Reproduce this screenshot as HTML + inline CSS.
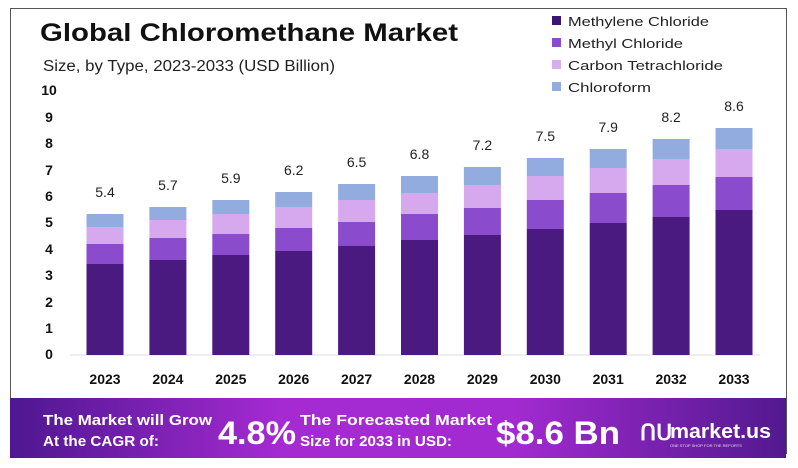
<!DOCTYPE html>
<html><head><meta charset="utf-8"><style>
html,body{margin:0;padding:0;background:#fff;}
svg{display:block;font-family:"Liberation Sans",sans-serif;}
</style></head><body>
<svg width="798" height="468" viewBox="0 0 798 468" xmlns="http://www.w3.org/2000/svg">
<defs>
<linearGradient id="bg" x1="0" x2="1" y1="0" y2="0">
<stop offset="0" stop-color="#4e1790"/>
<stop offset="0.35" stop-color="#a52ad2"/>
<stop offset="0.65" stop-color="#a22ad0"/>
<stop offset="1" stop-color="#52198f"/>
</linearGradient>
<g id="dummy"></g>
</defs>
<rect x="0" y="0" width="798" height="468" fill="#fff"/>
<rect x="10.5" y="8.5" width="776" height="445" fill="#fff" stroke="#555" stroke-width="1"/>
<text x="40" y="41" font-size="25" font-weight="bold" fill="#111" textLength="418" lengthAdjust="spacingAndGlyphs">Global Chloromethane Market</text>
<text x="43" y="71" font-size="15.5" fill="#222" textLength="292" lengthAdjust="spacingAndGlyphs">Size, by Type, 2023-2033 (USD Billion)</text>
<g font-size="14" font-weight="bold" fill="#111" text-anchor="middle">
<text x="49" y="95">10</text><text x="49" y="122">9</text><text x="49" y="148">8</text><text x="49" y="175">7</text><text x="49" y="201">6</text><text x="49" y="227">5</text><text x="49" y="254">4</text><text x="49" y="280">3</text><text x="49" y="307">2</text><text x="49" y="333">1</text><text x="49" y="359">0</text>
</g>
<line x1="70" y1="355" x2="760" y2="355" stroke="#ddd" stroke-width="1"/>

<g transform="translate(86.5,0)"><rect y="264" width="37" height="91" fill="#4a1a80"/><rect y="244" width="37" height="20" fill="#8a4ccc"/><rect y="227" width="37" height="17" fill="#d6a8ee"/><rect y="214" width="37" height="13" fill="#93acdf"/></g>
<g transform="translate(149.4,0)"><rect y="260" width="37" height="95" fill="#4a1a80"/><rect y="238" width="37" height="22" fill="#8a4ccc"/><rect y="220" width="37" height="18" fill="#d6a8ee"/><rect y="207" width="37" height="13" fill="#93acdf"/></g>
<g transform="translate(212.3,0)"><rect y="255" width="37" height="100" fill="#4a1a80"/><rect y="234" width="37" height="21" fill="#8a4ccc"/><rect y="214" width="37" height="20" fill="#d6a8ee"/><rect y="200" width="37" height="14" fill="#93acdf"/></g>
<g transform="translate(275.2,0)"><rect y="251" width="37" height="104" fill="#4a1a80"/><rect y="228" width="37" height="23" fill="#8a4ccc"/><rect y="207" width="37" height="21" fill="#d6a8ee"/><rect y="192" width="37" height="15" fill="#93acdf"/></g>
<g transform="translate(338.1,0)"><rect y="246" width="37" height="109" fill="#4a1a80"/><rect y="222" width="37" height="24" fill="#8a4ccc"/><rect y="200" width="37" height="22" fill="#d6a8ee"/><rect y="184" width="37" height="16" fill="#93acdf"/></g>
<g transform="translate(401,0)"><rect y="240" width="37" height="115" fill="#4a1a80"/><rect y="214" width="37" height="26" fill="#8a4ccc"/><rect y="193" width="37" height="21" fill="#d6a8ee"/><rect y="176" width="37" height="17" fill="#93acdf"/></g>
<g transform="translate(463.9,0)"><rect y="235" width="37" height="120" fill="#4a1a80"/><rect y="208" width="37" height="27" fill="#8a4ccc"/><rect y="185" width="37" height="23" fill="#d6a8ee"/><rect y="167" width="37" height="18" fill="#93acdf"/></g>
<g transform="translate(526.8,0)"><rect y="229" width="37" height="126" fill="#4a1a80"/><rect y="200" width="37" height="29" fill="#8a4ccc"/><rect y="176" width="37" height="24" fill="#d6a8ee"/><rect y="158" width="37" height="18" fill="#93acdf"/></g>
<g transform="translate(589.7,0)"><rect y="223" width="37" height="132" fill="#4a1a80"/><rect y="193" width="37" height="30" fill="#8a4ccc"/><rect y="168" width="37" height="25" fill="#d6a8ee"/><rect y="149" width="37" height="19" fill="#93acdf"/></g>
<g transform="translate(652.6,0)"><rect y="217" width="37" height="138" fill="#4a1a80"/><rect y="185" width="37" height="32" fill="#8a4ccc"/><rect y="159" width="37" height="26" fill="#d6a8ee"/><rect y="139" width="37" height="20" fill="#93acdf"/></g>
<g transform="translate(715.5,0)"><rect y="210" width="37" height="145" fill="#4a1a80"/><rect y="177" width="37" height="33" fill="#8a4ccc"/><rect y="149" width="37" height="28" fill="#d6a8ee"/><rect y="128" width="37" height="21" fill="#93acdf"/></g>

<g font-size="14" fill="#222" text-anchor="middle">
<text x="105" y="197">5.4</text><text x="167.9" y="190">5.7</text><text x="230.8" y="183">5.9</text><text x="293.7" y="175">6.2</text><text x="356.6" y="167">6.5</text><text x="419.5" y="159">6.8</text><text x="482.4" y="150">7.2</text><text x="545.3" y="141">7.5</text><text x="608.2" y="132">7.9</text><text x="671.1" y="122">8.2</text><text x="734" y="111">8.6</text>
</g>
<g font-size="14" font-weight="bold" fill="#111" text-anchor="middle">
<text x="105" y="384">2023</text><text x="167.9" y="384">2024</text><text x="230.8" y="384">2025</text><text x="293.7" y="384">2026</text><text x="356.6" y="384">2027</text><text x="419.5" y="384">2028</text><text x="482.4" y="384">2029</text><text x="545.3" y="384">2030</text><text x="608.2" y="384">2031</text><text x="671.1" y="384">2032</text><text x="734" y="384">2033</text>
</g>
<g font-size="13" fill="#222">
<rect x="552" y="16" width="9" height="9" fill="#3d1472"/><text x="568" y="26" textLength="141" lengthAdjust="spacingAndGlyphs">Methylene Chloride</text>
<rect x="552" y="38" width="9" height="9" fill="#8a4ccc"/><text x="568" y="48" textLength="115" lengthAdjust="spacingAndGlyphs">Methyl Chloride</text>
<rect x="552" y="60" width="9" height="9" fill="#d6b0ee"/><text x="568" y="70" textLength="155" lengthAdjust="spacingAndGlyphs">Carbon Tetrachloride</text>
<rect x="552" y="82" width="9" height="9" fill="#93acdf"/><text x="568" y="92" textLength="83" lengthAdjust="spacingAndGlyphs">Chloroform</text>
</g>
<rect x="10" y="398" width="776" height="60" fill="url(#bg)"/>
<g fill="#fff" font-weight="bold">
<text x="43" y="425" font-size="15" textLength="169" lengthAdjust="spacingAndGlyphs">The Market will Grow</text>
<text x="43" y="446" font-size="15" textLength="116" lengthAdjust="spacingAndGlyphs">At the CAGR of:</text>
<text x="218" y="444" font-size="32" textLength="78" lengthAdjust="spacingAndGlyphs">4.8%</text>
<text x="300" y="425" font-size="15" textLength="192" lengthAdjust="spacingAndGlyphs">The Forecasted Market</text>
<text x="300" y="446" font-size="15" textLength="152" lengthAdjust="spacingAndGlyphs">Size for 2033 in USD:</text>
<text x="496" y="444" font-size="32" textLength="124" lengthAdjust="spacingAndGlyphs">$8.6 Bn</text>
<text x="670" y="438" font-size="20" textLength="101" lengthAdjust="spacingAndGlyphs">market.us</text>
<text x="640" y="440" font-size="22">ՈՍ</text>
</g>
<text x="670" y="447" font-size="4" fill="#e8d8f4">ONE STOP SHOP FOR THE REPORTS</text>
</svg>
</body></html>
